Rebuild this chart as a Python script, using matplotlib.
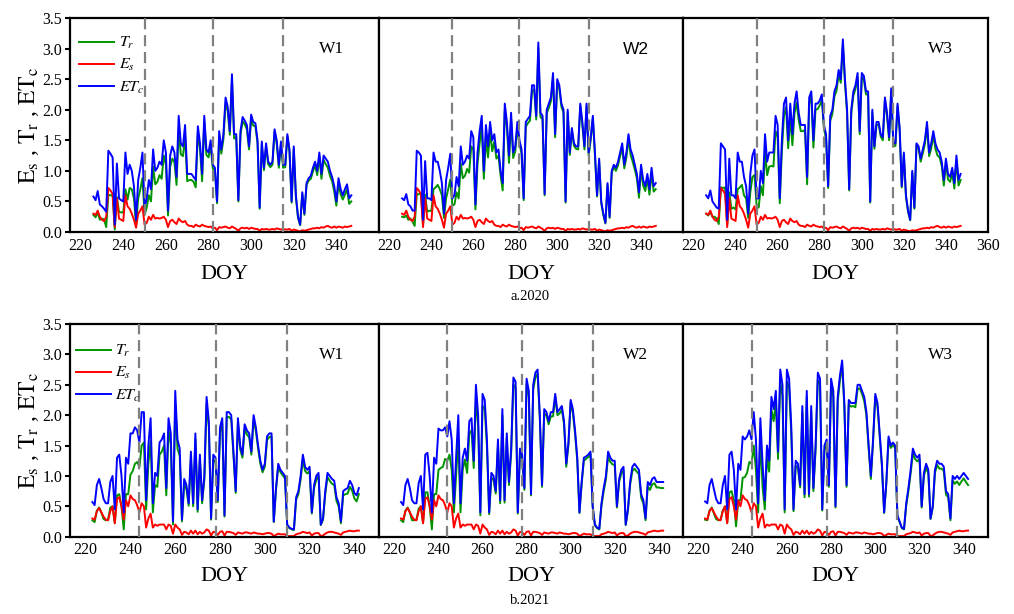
import numpy as np
import matplotlib
matplotlib.use("Agg")
import matplotlib.pyplot as plt

plt.rcParams['font.family'] = ['Liberation Serif', 'DejaVu Serif']
plt.rcParams['mathtext.fontset'] = 'stix'

# ---------------- data ----------------
doy_2020 = np.arange(226, 348)
doy_2021 = np.arange(223, 343)

# soil evaporation (mm/d)
es_2020 = [
    0.30, 0.28, 0.35, 0.25, 0.20, 0.18, 0.25, 0.72, 0.68, 0.62,
    0.08, 0.55, 0.22, 0.20, 0.18, 0.60, 0.42, 0.38, 0.30, 0.20,
    0.07, 0.30, 0.35, 0.42, 0.12, 0.15, 0.25, 0.20, 0.28, 0.22,
    0.23, 0.22, 0.23, 0.25, 0.20, 0.08, 0.18, 0.20, 0.16, 0.13,
    0.22, 0.18, 0.16, 0.18, 0.12, 0.10, 0.10, 0.08, 0.12, 0.10,
    0.09, 0.12, 0.10, 0.09, 0.08, 0.09, 0.06, 0.07, 0.03, 0.08,
    0.07, 0.08, 0.09, 0.07, 0.06, 0.09, 0.07, 0.05, 0.02, 0.06,
    0.07, 0.06, 0.07, 0.05, 0.07, 0.06, 0.05, 0.05, 0.02, 0.05,
    0.04, 0.05, 0.04, 0.04, 0.05, 0.04, 0.06, 0.05, 0.04, 0.05,
    0.04, 0.04, 0.05, 0.02, 0.04, 0.03, 0.02, 0.01, 0.03, 0.02,
    0.03, 0.04, 0.05, 0.06, 0.06, 0.07, 0.06, 0.08, 0.07, 0.09,
    0.10, 0.08, 0.07, 0.09, 0.07, 0.09, 0.08, 0.07, 0.09, 0.08,
    0.09, 0.10,
]

# crop evapotranspiration (mm/d), 2020
et_2020_w1 = [
    0.58, 0.52, 0.67, 0.45, 0.42, 0.38, 0.33, 1.33, 1.28, 1.22,
    0.12, 1.12, 0.55, 0.52, 0.50, 1.30, 0.95, 1.10, 1.00, 0.75,
    0.20, 0.85, 1.05, 1.30, 0.40, 0.55, 0.85, 0.70, 1.35, 1.00,
    1.05, 1.15, 1.10, 1.50, 1.30, 0.35, 1.25, 1.40, 1.30, 0.90,
    1.90, 1.45, 1.40, 1.75, 0.95, 0.95, 0.95, 0.90, 0.85, 1.73,
    1.45, 0.95, 1.90, 1.35, 1.30, 1.50, 1.10, 1.05, 0.50, 1.65,
    1.35, 1.60, 2.20, 2.05, 1.65, 2.58, 1.60, 1.60, 0.52, 1.65,
    1.88, 1.82, 1.75, 1.40, 1.92, 1.80, 1.78, 1.50, 0.40, 1.48,
    1.05, 1.45, 1.15, 1.10, 1.15, 1.68, 1.50, 1.10, 1.48, 1.10,
    1.10, 1.60, 1.35, 0.50, 1.40, 0.60, 0.25, 0.12, 0.65, 0.30,
    0.80, 0.88, 0.92, 1.05, 1.15, 1.00, 1.30, 0.95, 1.25, 1.20,
    1.15, 1.00, 0.90, 0.75, 0.50, 0.88, 0.70, 0.60, 0.70, 0.78,
    0.55, 0.60,
]
et_2020_w2 = [
    0.55, 0.52, 0.62, 0.45, 0.42, 0.35, 0.35, 1.33, 1.30, 1.25,
    0.20, 1.16, 0.55, 0.55, 0.52, 1.30, 1.15, 1.15, 1.00, 0.80,
    0.30, 0.85, 1.05, 1.28, 0.55, 0.60, 0.90, 0.75, 1.40, 1.10,
    1.15, 1.25, 1.20, 1.65, 1.55, 0.45, 1.30, 1.65, 1.90, 1.00,
    1.75, 1.40, 1.80, 1.50, 1.60, 1.30, 1.35, 1.00, 0.80, 2.10,
    1.80, 1.25, 1.95, 1.30, 1.40, 1.80, 1.50, 1.35, 0.55, 1.80,
    1.85, 1.90, 2.40, 2.40, 1.90, 3.10, 1.95, 1.90, 0.62, 2.00,
    2.10, 2.20, 2.60, 1.60, 2.50, 2.40, 2.10, 2.00, 0.50, 2.00,
    1.30, 1.70, 1.45, 1.40, 1.40, 2.10, 1.80, 1.40, 2.10, 1.30,
    1.55, 1.90, 1.30, 0.60, 1.20, 0.50, 0.30, 0.15, 0.80, 0.25,
    1.00, 1.10, 1.05, 1.15, 1.30, 1.45, 1.10, 1.30, 1.60, 1.35,
    1.25, 1.10, 0.95, 0.65, 1.10, 0.85, 0.75, 0.95, 0.70, 1.05,
    0.75, 0.80,
]
et_2020_w3 = [
    0.60, 0.55, 0.68, 0.50, 0.45, 0.40, 0.38, 1.45, 1.40, 1.35,
    0.20, 1.20, 0.60, 0.60, 0.55, 1.30, 1.15, 1.15, 0.90, 0.75,
    0.30, 0.95, 1.25, 1.35, 0.55, 0.55, 1.00, 0.80, 1.60, 1.15,
    1.30, 1.30, 1.30, 1.90, 1.75, 0.55, 1.50, 2.10, 2.20, 1.50,
    2.10, 1.60, 2.10, 2.30, 1.95, 1.75, 1.75, 1.75, 0.90, 2.20,
    2.30, 1.50, 2.10, 2.10, 2.15, 2.25, 1.75, 1.60, 0.75, 1.90,
    2.00, 2.30, 2.40, 2.65, 2.50, 3.15, 2.50, 2.00, 0.70, 2.00,
    2.30, 2.40, 2.60, 1.65, 2.60, 2.55, 2.30, 2.30, 0.50, 2.00,
    1.40, 1.80, 1.80, 1.60, 1.55, 2.20, 1.95, 1.55, 2.35, 1.45,
    1.45, 2.10, 1.70, 0.75, 1.30, 0.60, 0.35, 0.20, 1.00, 0.40,
    1.45, 1.40, 1.20, 1.35, 1.50, 1.80, 1.30, 1.45, 1.65, 1.45,
    1.35, 1.30, 1.15, 0.85, 1.20, 0.95, 0.90, 1.05, 0.80, 1.25,
    0.85, 0.95,
]

es_2021 = [
    0.30, 0.28, 0.42, 0.47, 0.40, 0.33, 0.28, 0.27, 0.42, 0.50,
    0.22, 0.62, 0.65, 0.50, 0.28, 0.60, 0.50, 0.68, 0.62, 0.60,
    0.52, 0.40, 0.55, 0.50, 0.15, 0.30, 0.38, 0.15, 0.20, 0.18,
    0.20, 0.20, 0.20, 0.12, 0.20, 0.18, 0.05, 0.20, 0.15, 0.12,
    0.03, 0.08, 0.07, 0.04, 0.10, 0.05, 0.10, 0.04, 0.08, 0.05,
    0.07, 0.12, 0.10, 0.02, 0.08, 0.07, 0.03, 0.08, 0.09, 0.02,
    0.08, 0.08, 0.07, 0.06, 0.03, 0.07, 0.06, 0.05, 0.07, 0.07,
    0.06, 0.05, 0.07, 0.06, 0.05, 0.05, 0.04, 0.05, 0.06, 0.06,
    0.05, 0.01, 0.03, 0.05, 0.04, 0.04, 0.04, 0.01, 0.01, 0.01,
    0.01, 0.04, 0.05, 0.06, 0.08, 0.07, 0.06, 0.07, 0.02, 0.05,
    0.06, 0.06, 0.01, 0.02, 0.05, 0.07, 0.08, 0.08, 0.07, 0.06,
    0.05, 0.03, 0.07, 0.08, 0.09, 0.10, 0.09, 0.09, 0.10, 0.10,
]

et_2021_w1 = [
    0.57, 0.52, 0.85, 0.95, 0.80, 0.62, 0.55, 0.55, 0.90, 1.00,
    0.45, 1.30, 1.35, 1.00, 0.40, 1.30, 1.20, 1.70, 1.70, 1.80,
    1.75, 1.55, 2.05, 2.05, 0.60, 1.50, 1.95, 0.55, 1.05, 1.00,
    1.55, 1.60, 1.70, 0.80, 1.95, 1.70, 0.25, 2.40, 1.60, 1.45,
    0.28, 0.95, 0.85, 0.55, 1.40, 0.55, 1.70, 0.45, 1.35, 0.60,
    1.00, 2.30, 1.90, 0.30, 1.35, 1.30, 0.60, 1.80, 1.95, 0.35,
    2.05, 2.05, 2.00, 1.40, 0.75, 1.95, 1.50, 1.35, 1.85, 1.75,
    1.70, 1.40, 2.00, 1.80, 1.50, 1.25, 1.10, 1.20, 1.65, 1.70,
    1.70, 0.25, 0.80, 1.20, 1.10, 1.05, 1.00, 0.20, 0.15, 0.13,
    0.12, 0.65, 0.75, 1.00, 1.35, 1.15, 1.10, 1.15, 0.40, 0.85,
    1.00, 1.05, 0.20, 0.30, 0.75, 1.05, 1.00, 0.95, 0.92, 0.65,
    0.55, 0.25, 0.75, 0.78, 0.80, 0.92, 0.85, 0.72, 0.68, 0.80,
]
et_2021_w2 = [
    0.57, 0.52, 0.85, 0.95, 0.80, 0.60, 0.55, 0.55, 0.88, 1.00,
    0.45, 1.35, 1.38, 1.00, 0.40, 1.30, 1.20, 1.78, 1.75, 1.75,
    1.80, 1.65, 1.90, 1.60, 0.55, 1.30, 2.00, 0.55, 1.30, 1.45,
    1.25, 1.90, 1.95, 1.25, 2.50, 2.00, 0.40, 2.35, 2.25, 1.60,
    0.40, 1.05, 1.00, 0.75, 1.60, 0.60, 2.10, 0.60, 1.70, 0.90,
    1.45, 2.62, 2.55, 0.40, 1.45, 1.35, 0.80, 2.60, 2.40, 0.70,
    2.50, 2.70, 2.75, 2.00, 0.85, 2.10, 2.05, 1.90, 2.05, 2.05,
    2.35, 2.05, 2.10, 2.15, 1.90, 1.20, 1.55, 2.25, 2.10, 1.75,
    1.30, 0.40, 0.90, 1.30, 1.32, 1.35, 1.40, 0.50, 0.20, 0.15,
    0.13, 0.55, 0.80, 1.00, 1.40, 1.30, 1.25, 1.25, 0.50, 0.95,
    1.10, 1.15, 0.20, 0.45, 0.90, 1.15, 1.20, 1.15, 1.10, 0.70,
    0.60, 0.30, 0.90, 0.85, 0.95, 0.98, 0.90, 0.90, 0.90, 0.90,
]
et_2021_w3 = [
    0.58, 0.55, 0.85, 0.95, 0.78, 0.62, 0.55, 0.55, 0.85, 1.00,
    0.45, 1.35, 1.40, 1.10, 0.45, 1.20, 1.10, 1.65, 1.60, 1.65,
    1.75, 1.60, 2.05, 1.60, 0.55, 1.95, 1.20, 0.60, 1.50, 1.25,
    2.30, 2.10, 2.40, 1.40, 2.75, 2.50, 0.45, 2.75, 2.60, 1.80,
    0.45, 1.25, 1.20, 0.85, 2.15, 0.70, 2.40, 0.70, 2.15, 0.80,
    1.50, 2.70, 2.60, 0.45, 1.50, 1.60, 0.85, 2.60, 2.40, 0.50,
    2.30, 2.65, 2.90, 2.20, 0.85, 2.25, 2.20, 2.20, 2.20, 2.50,
    2.50, 2.40, 2.30, 2.05, 1.50, 1.00, 1.60, 2.35, 2.20, 1.70,
    1.20, 0.40, 0.90, 1.65, 1.50, 1.55, 1.50, 0.35, 0.25, 0.15,
    0.13, 0.55, 0.80, 1.10, 1.45, 1.35, 1.30, 1.35, 0.50, 1.05,
    1.20, 1.10, 0.30, 0.50, 1.10, 1.25, 1.20, 1.20, 1.15, 0.75,
    0.70, 0.30, 1.00, 0.95, 1.00, 0.95, 1.00, 1.05, 1.00, 0.95,
]

# growth-stage boundaries (DOY)
stages_2020 = [250, 282, 315]
stages_2021 = [244, 278, 310]

treatments = ['W1', 'W2', 'W3']
panel_titles = ['a.2020', 'b.2021']

# ---------------- figure ----------------
C_TR, C_ES, C_ET = '#009400', '#FF0000', '#0000FF'
FW, FH = 1014, 614
fig = plt.figure(figsize=(FW / 100, FH / 100), dpi=100)

col_edges = [70, 379, 683, 988]
row_spans = [(18, 232), (324, 536.7)]

rows = [
    dict(doy=doy_2020, es=np.array(es_2020),
         et=[np.array(et_2020_w1), np.array(et_2020_w2), np.array(et_2020_w3)],
         stages=stages_2020, xlim=(215, 360),
         xticks=[list(range(220, 341, 20)), list(range(220, 341, 20)),
                 list(range(220, 361, 20))],
         leg_anchor=(0.03, 0.92), ylab_y=-0.155, fonts=['serif', 'sans', 'serif']),
    dict(doy=doy_2021, es=np.array(es_2021),
         et=[np.array(et_2021_w1), np.array(et_2021_w2), np.array(et_2021_w3)],
         stages=stages_2021, xlim=(213, 351),
         xticks=[list(range(220, 341, 20))] * 3,
         leg_anchor=(0.018, 0.91), ylab_y=-0.143, fonts=['serif', 'serif', 'serif']),
]

for r, (row, (ytop, ybot)) in enumerate(zip(rows, row_spans)):
    for c in range(3):
        x0, x1 = col_edges[c], col_edges[c + 1]
        ax = fig.add_axes([x0 / FW, 1 - ybot / FH, (x1 - x0) / FW, (ybot - ytop) / FH])
        doy, es, et = row['doy'], row['es'], row['et'][c]
        tr = np.clip(et - es, 0, None)   # ETc = Tr + Es
        ax.plot(doy, tr, color=C_TR, lw=1.4, label=r'$T_r$', zorder=2)
        ax.plot(doy, es, color=C_ES, lw=1.4, label=r'$E_s$', zorder=2)
        ax.plot(doy, et, color=C_ET, lw=1.4, label=r'$ET_c$', zorder=2)
        for d in row['stages']:
            ax.axvline(d, color='#808080', lw=1.6, ls=(0, (5, 2.6)), zorder=3)

        ax.set_xlim(*row['xlim'])
        ax.set_ylim(0, 3.5)
        ax.set_xticks(row['xticks'][c])
        ax.set_yticks(np.arange(0, 3.51, 0.5))
        ax.tick_params(axis='x', length=0, labelsize=11.5, pad=4)
        if c == 0:
            ax.tick_params(axis='y', direction='out', length=3.5, width=1.5,
                           labelsize=11.5, pad=2)
            ax.set_yticklabels([f'{v:.1f}' for v in np.arange(0, 3.51, 0.5)])
            ax.set_ylabel(r'$\mathrm{E_s}$ , $\mathrm{T_r}$ , $\mathrm{ET_c}$', fontsize=17)
            ax.yaxis.set_label_coords(-0.095, 0.5)
            ax.legend(loc='upper left', bbox_to_anchor=row['leg_anchor'], frameon=False,
                      fontsize=11.5, handlelength=2.2, handletextpad=0.3,
                      labelspacing=0.38, borderpad=0, borderaxespad=0)
        else:
            ax.tick_params(axis='y', length=0)
            ax.set_yticklabels([])
        ax.set_xlabel('DOY', fontsize=16)
        ax.xaxis.set_label_coords(0.5, row['ylab_y'])
        for s in ax.spines.values():
            s.set_linewidth(1.6)

        fam = ['Liberation Sans'] if row['fonts'][c] == 'sans' else ['Liberation Serif']
        ax.text(0.845, 0.855, treatments[c], transform=ax.transAxes, ha='center',
                va='center', fontsize=12.5, family=fam)

fig.text(530 / FW, 1 - 297 / FH, panel_titles[0], ha='center', va='center', fontsize=10.5)
fig.text(530 / FW, 1 - 601 / FH, panel_titles[1], ha='center', va='center', fontsize=10.5)

fig.savefig('out.png', dpi=100)
